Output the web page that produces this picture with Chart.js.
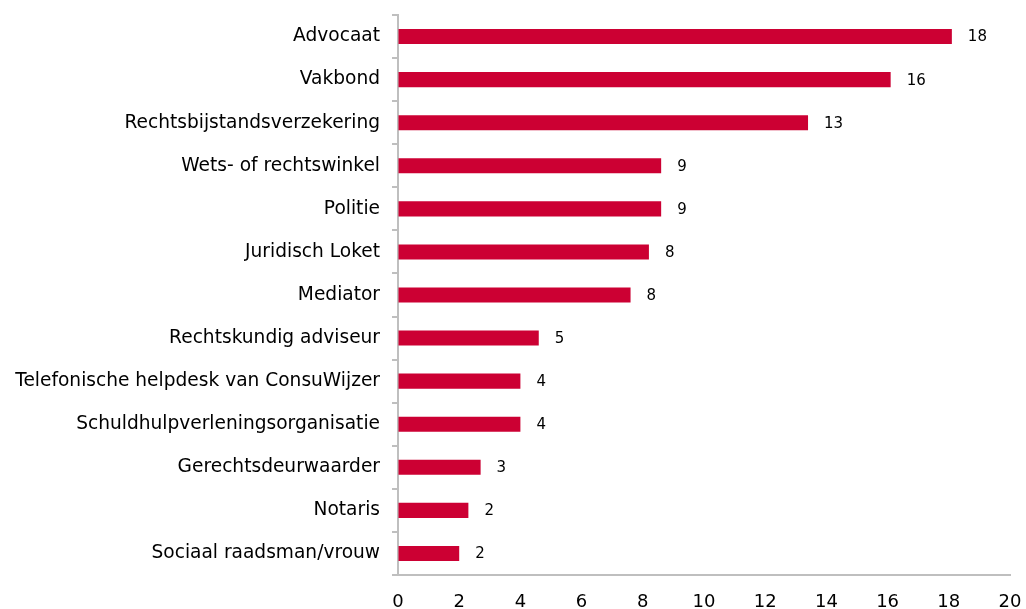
<!DOCTYPE html>
<html>
<head>
<meta charset="utf-8">
<script src="https://cdn.jsdelivr.net/npm/chart.js@4/dist/chart.umd.min.js"></script>
<style>
  html, body { margin: 0; padding: 0; background: #fff; }
  #wrap { width: 1026px; height: 609px; }
</style>
</head>
<body>
<div id="wrap"><canvas id="chart"></canvas></div>
<script>
const categories = [
    'Advocaat',
    'Vakbond',
    'Rechtsbijstandsverzekering',
    'Wets- of rechtswinkel',
    'Politie',
    'Juridisch Loket',
    'Mediator',
    'Rechtskundig adviseur',
    'Telefonische helpdesk van ConsuWijzer',
    'Schuldhulpverleningsorganisatie',
    'Gerechtsdeurwaarder',
    'Notaris',
    'Sociaal raadsman/vrouw'
];
const values = [18.1, 16.1, 13.4, 8.6, 8.6, 8.2, 7.6, 4.6, 4.0, 4.0, 2.7, 2.3, 2.0];
const xTicks = [0, 2, 4, 6, 8, 10, 12, 14, 16, 18, 20];

const axisGray = '#bfbfbf';
const barRed = '#cc0033';
const fontFamily = "'DejaVu Sans', Verdana, sans-serif";

// writes the rounded value next to each bar
const valueLabels = {
    id: 'valueLabels',
    afterDatasetsDraw(chart) {
        const ctx = chart.ctx;
        const meta = chart.getDatasetMeta(0);
        ctx.save();
        ctx.font = '15px ' + fontFamily;
        ctx.fillStyle = '#000';
        ctx.textAlign = 'left';
        ctx.textBaseline = 'middle';
        meta.data.forEach((bar, i) => {
            ctx.fillText(Math.round(values[i]), bar.x + 16, bar.y + 1);
        });
        ctx.restore();
    }
};

new Chart(document.getElementById('chart').getContext('2d'), {
    type: 'bar',
    data: {
        labels: categories,
        datasets: [{
            data: values,
            backgroundColor: barRed,
            borderWidth: 0,
            categoryPercentage: 1,
            barPercentage: 0.35
        }]
    },
    options: {
        indexAxis: 'y',
        responsive: true,
        maintainAspectRatio: false,
        animation: false,
        layout: { padding: { top: 15, right: 16, left: 0, bottom: 0 } },
        plugins: {
            legend: { display: false },
            tooltip: { enabled: false }
        },
        scales: {
            x: {
                min: 0,
                max: 20,
                afterBuildTicks(scale) {
                    scale.ticks = xTicks.map(v => ({ value: v }));
                },
                afterFit(scale) {
                    scale.height = 34;
                    scale.paddingLeft = 0;
                    scale.paddingRight = 0;
                },
                grid: { drawOnChartArea: false, drawTicks: false },
                border: { color: axisGray, width: 2 },
                ticks: {
                    color: '#000',
                    padding: 17,
                    font: { family: fontFamily, size: 18 }
                }
            },
            y: {
                afterFit(scale) {
                    scale.width = 398;
                    scale.paddingTop = 0;
                    scale.paddingBottom = 0;
                },
                grid: {
                    drawOnChartArea: false,
                    drawTicks: true,
                    tickLength: 6,
                    color: axisGray,
                    lineWidth: 2
                },
                border: { color: axisGray, width: 2 },
                ticks: {
                    color: '#000',
                    padding: 12,
                    font: { family: fontFamily, size: 18.6 }
                }
            }
        }
    },
    plugins: [valueLabels]
});
</script>
</body>
</html>
